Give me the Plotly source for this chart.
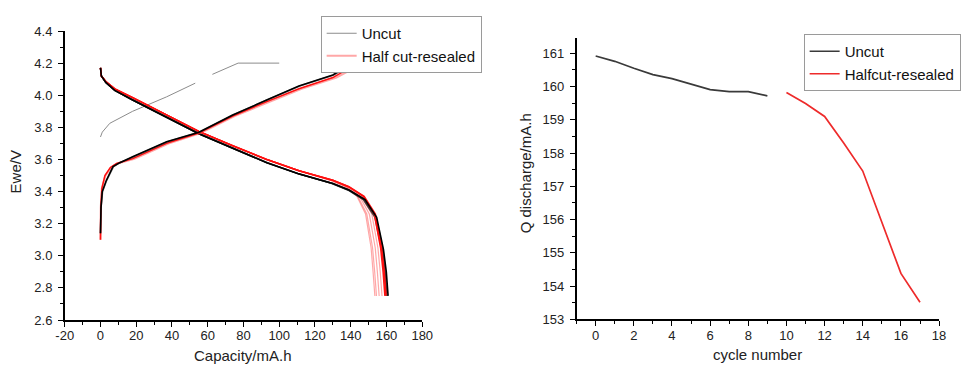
import plotly.graph_objects as go

# ---------------- Left chart: charge / discharge curves ----------------
# First charge of the uncut cell (gray thin line, gap in the middle)
first_charge_cap = [0, 1, 5.2, 18, 37, 53, None, 62.6, 77, 100]
first_charge_V = [3.74, 3.77, 3.825, 3.90, 3.99, 4.075, None, 4.13, 4.20, 4.20]
# constant-voltage step at 4.2 V
cv_cap = [141, 162]
cv_V = [4.20, 4.20]

# Discharge curves, Uncut (black)
dis_V_uncut = [4.17, 4.12, 4.08, 4.03, 3.97, 3.86, 3.76, 3.67, 3.58, 3.51, 3.45, 3.41, 3.35, 3.24, 3.04, 2.90, 2.75]
dis_cap_uncut_1 = [0, 0.5, 3, 8, 18, 37, 55, 74, 93, 111, 130, 139, 148, 154.5, 158.3, 159.9, 160.9]
dis_cap_uncut_2 = [0, 0.5, 3, 8, 18, 37.5, 55.5, 74, 93, 111, 130, 139, 147.8, 154.2, 158.0, 159.5, 160.5]
dis_cap_uncut_3 = [0, 0.5, 3, 8, 18.5, 37.5, 55.5, 74.5, 93.5, 111, 130, 138.8, 147.5, 154.0, 157.7, 159.2, 160.2]
dis_cap_uncut_4 = [0, 0.5, 3, 8, 18, 37, 55, 74, 93, 111, 129.5, 138.5, 147.2, 153.7, 157.4, 158.9, 159.9]
dis_cap_uncut_5 = [0, 0.5, 3, 8, 18, 37, 55, 74, 93, 111, 129.5, 138.3, 147.0, 153.5, 157.2, 158.7, 159.7]

# Discharge curves, Half cut-resealed (red)
dis_V_half = [4.17, 4.12, 4.085, 4.04, 3.985, 3.875, 3.775, 3.685, 3.60, 3.53, 3.47, 3.43, 3.37, 3.26, 3.05, 2.90, 2.75]
dis_cap_half_1 = [0, 0.5, 3, 8, 18, 37, 55, 74, 93, 111, 130, 139, 147.5, 153.8, 157.3, 158.8, 159.8]
dis_cap_half_2 = [0, 0.5, 3, 8, 18, 37, 55, 74, 93, 111, 130, 138.8, 147.0, 153.2, 156.7, 158.1, 159.1]
dis_cap_half_3 = [0, 0.5, 3, 8, 18, 37, 55, 74, 93, 111, 130, 138.5, 146.0, 151.8, 155.2, 156.5, 157.5]
dis_cap_half_4 = [0, 0.5, 3, 8, 18, 37, 55, 74, 93, 111, 129.5, 138.0, 145.0, 150.4, 153.7, 154.9, 155.9]
dis_cap_half_5 = [0, 0.5, 3, 8, 18, 37, 55, 74, 93, 111, 129.0, 137.5, 144.0, 149.0, 152.2, 153.4, 154.4]
dis_cap_half_6 = [0, 0.5, 3, 8, 18, 37, 55, 74, 93, 111, 128.5, 137.0, 143.5, 148.3, 151.4, 152.5, 153.5]

# Charge curves, Uncut (black)
chg_V_uncut = [3.14, 3.30, 3.40, 3.47, 3.555, 3.58, 3.617, 3.71, 3.77, 3.877, 3.97, 4.057, 4.126, 4.20]
chg_cap_uncut_1 = [0, 0.3, 1.0, 3.3, 7.0, 10.8, 18, 37, 55, 74, 93, 111, 130, 141]
chg_cap_uncut_2 = [0, 0.3, 1.2, 3.5, 7.3, 11.0, 18.5, 37.5, 55.5, 74, 93, 111.5, 130.5, 142]

# Charge curves, Half cut-resealed (red)
chg_V_half = [3.10, 3.30, 3.42, 3.50, 3.55, 3.575, 3.605, 3.70, 3.765, 3.87, 3.96, 4.04, 4.11, 4.20]
chg_cap_half_1 = [0, 0.2, 0.8, 2.5, 5.5, 9.0, 18, 37, 55, 74, 93, 111, 130, 144]
chg_cap_half_2 = [0, 0.2, 0.8, 2.7, 6.0, 9.5, 19, 38, 56, 75, 94.5, 112.5, 132, 147]

# Left chart tick labels
cap_ticks = [-20, 0, 20, 40, 60, 80, 100, 120, 140, 160, 180]
cap_tick_text = ["-20", "0", "20", "40", "60", "80", "100", "120", "140", "160", "180"]

# ---------------- Right chart: discharge capacity vs cycle ----------------
cycle_uncut = [0, 1, 2, 3, 4, 5, 6, 7, 8, 9]
q_uncut = [160.92, 160.76, 160.55, 160.36, 160.24, 160.07, 159.91, 159.85, 159.85, 159.72]
cycle_half = [10, 11, 12, 13, 14, 15, 16, 17]
q_half = [159.82, 159.49, 159.10, 158.30, 157.46, 155.94, 154.38, 153.51]

FONT = "Liberation Sans, Arial, sans-serif"

fig = go.Figure()

# Left chart traces
fig.add_trace(go.Scatter(x=first_charge_cap, y=first_charge_V, mode="lines", name="Uncut",
                         line=dict(color="#8c8c8c", width=1), connectgaps=False,
                         legend="legend", xaxis="x", yaxis="y"))
fig.add_trace(go.Scatter(x=cv_cap, y=cv_V, mode="lines", showlegend=False,
                         line=dict(color="#8c8c8c", width=1), xaxis="x", yaxis="y"))

for c in [dis_cap_half_6, dis_cap_half_5, dis_cap_half_4, dis_cap_half_3]:
    fig.add_trace(go.Scatter(x=c, y=dis_V_half, mode="lines", showlegend=False,
                             line=dict(color="rgba(255,60,60,0.45)", width=1.2), xaxis="x", yaxis="y"))

for c in [dis_cap_uncut_5, dis_cap_uncut_4, dis_cap_uncut_3, dis_cap_uncut_2]:
    fig.add_trace(go.Scatter(x=c, y=dis_V_uncut, mode="lines", showlegend=False,
                             line=dict(color="rgba(40,40,40,0.55)", width=1.5), xaxis="x", yaxis="y"))

for c in [dis_cap_half_2, dis_cap_half_1]:
    fig.add_trace(go.Scatter(x=c, y=dis_V_half, mode="lines", showlegend=False,
                             line=dict(color="#ff1010", width=1.5), xaxis="x", yaxis="y"))

fig.add_trace(go.Scatter(x=dis_cap_uncut_1, y=dis_V_uncut, mode="lines", showlegend=False,
                         line=dict(color="#000000", width=1.6), xaxis="x", yaxis="y"))

fig.add_trace(go.Scatter(x=chg_cap_half_2, y=chg_V_half, mode="lines", name="Half cut-resealed",
                         line=dict(color="rgba(255,80,80,0.5)", width=2.2),
                         legend="legend", xaxis="x", yaxis="y"))
fig.add_trace(go.Scatter(x=chg_cap_half_1, y=chg_V_half, mode="lines", showlegend=False,
                         line=dict(color="#ff1010", width=1.5), xaxis="x", yaxis="y"))
fig.add_trace(go.Scatter(x=chg_cap_uncut_2, y=chg_V_uncut, mode="lines", showlegend=False,
                         line=dict(color="rgba(40,40,40,0.55)", width=1.5), xaxis="x", yaxis="y"))
fig.add_trace(go.Scatter(x=chg_cap_uncut_1, y=chg_V_uncut, mode="lines", showlegend=False,
                         line=dict(color="#000000", width=1.6), xaxis="x", yaxis="y"))

# Right chart traces
fig.add_trace(go.Scatter(x=cycle_uncut, y=q_uncut, mode="lines", name="Uncut",
                         line=dict(color="#3a3a3a", width=1.7), legend="legend2",
                         xaxis="x2", yaxis="y2"))
fig.add_trace(go.Scatter(x=cycle_half, y=q_half, mode="lines", name="Halfcut-resealed",
                         line=dict(color="#ee2b2b", width=1.7), legend="legend2",
                         xaxis="x2", yaxis="y2"))

W, H = 961, 365

def ax_common(**kw):
    d = dict(showline=True, linecolor="black", linewidth=1.5, showgrid=False, zeroline=False,
             ticks="outside", ticklen=5, tickwidth=1.2, tickcolor="black",
             tickfont=dict(family=FONT, size=13, color="#222"), automargin=False)
    d.update(kw)
    return d

MINOR = dict(ticks="outside", ticklen=3, tickcolor="black", tickwidth=1)

fig.update_layout(
    width=W, height=H,
    margin=dict(l=0, r=0, t=0, b=0),
    paper_bgcolor="white", plot_bgcolor="white",
    font=dict(family=FONT, color="#222"),
    xaxis=ax_common(domain=[65 / W, 424 / W], range=[-20, 180],
                    tickmode="array", tickvals=cap_ticks, ticktext=cap_tick_text,
                    ticklabelstandoff=-2,
                    minor=dict(dtick=10, tick0=0, **MINOR), anchor="y"),
    yaxis=ax_common(domain=[(H - 320) / H, (H - 31) / H], range=[2.6, 4.4], tick0=2.6, dtick=0.2,
                    tickformat=".1f", ticklabelstandoff=3,
                    minor=dict(dtick=0.1, tick0=2.6, **MINOR), anchor="x"),
    xaxis2=ax_common(domain=[579 / W, 943 / W], range=[-1, 18], tick0=0, dtick=2,
                     ticklabelstandoff=-2,
                     minor=dict(dtick=1, tick0=0, **MINOR), anchor="y2"),
    yaxis2=ax_common(domain=[(H - 319.3) / H, (H - 37.7) / H], range=[153, 161.47], tick0=153, dtick=1,
                     ticklabelstandoff=3,
                     minor=dict(dtick=0.5, tick0=153, **MINOR), anchor="x2"),
    legend=dict(x=322 / W, y=(H - 16) / H, xanchor="left", yanchor="top",
                bgcolor="white", bordercolor="#9a9a9a", borderwidth=1,
                font=dict(family=FONT, size=15, color="#111"), tracegroupgap=0,
                itemwidth=30),
    legend2=dict(x=807 / W, y=(H - 34) / H, xanchor="left", yanchor="top",
                 bgcolor="white", bordercolor="#9a9a9a", borderwidth=1,
                 font=dict(family=FONT, size=15, color="#111"), tracegroupgap=0,
                 itemwidth=30),
    annotations=[
        dict(text="Capacity/mA.h", xref="paper", yref="paper", x=244.5 / W, y=(H - 355) / H,
             xanchor="center", yanchor="middle", showarrow=False,
             font=dict(family=FONT, size=15, color="#222")),
        dict(text="Ewe/V", xref="paper", yref="paper", x=16.5 / W, y=(H - 172) / H,
             xanchor="center", yanchor="middle", textangle=-90, showarrow=False,
             font=dict(family=FONT, size=15, color="#222")),
        dict(text="cycle number", xref="paper", yref="paper", x=761 / W, y=(H - 354) / H,
             xanchor="center", yanchor="middle", showarrow=False,
             font=dict(family=FONT, size=15, color="#222")),
        dict(text="Q discharge/mA.h", xref="paper", yref="paper", x=527.5 / W, y=(H - 173) / H,
             xanchor="center", yanchor="middle", textangle=-90, showarrow=False,
             font=dict(family=FONT, size=15, color="#222")),
    ],
)

fig.write_html("out.html", config={"displayModeBar": False},
               post_script="document.body.style.margin='0';document.body.style.padding='0';")
